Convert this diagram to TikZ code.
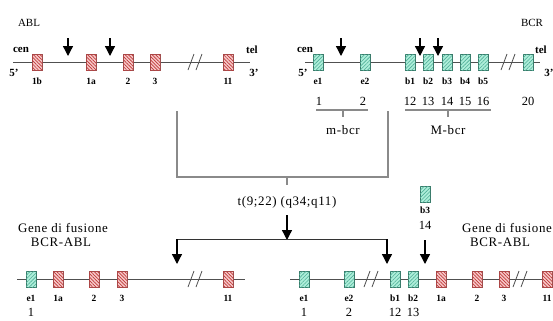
\documentclass[tikz,border=0pt]{standalone}
\usepackage{fontspec}
\setmainfont{Liberation Serif}
\usetikzlibrary{arrows.meta,patterns.meta}
\definecolor{ablfill}{HTML}{F6CACA}
\definecolor{ablhatch}{HTML}{C03838}
\definecolor{abldraw}{HTML}{A05050}
\definecolor{bcrfill}{HTML}{AEEEDA}
\definecolor{bcrhatch}{HTML}{50B098}
\definecolor{bcrdraw}{HTML}{3A7A6A}
\definecolor{chrom}{HTML}{505050}
\definecolor{brkt}{HTML}{8A8A8A}
\tikzset{
  exon/.style={minimum width=10bp, minimum height=16bp, inner sep=0pt, line width=0.7bp},
  ablex/.style={exon, draw=abldraw, fill=ablfill, postaction={pattern={Lines[angle=-45,distance=2.4bp,line width=0.7bp]}, pattern color=ablhatch}},
  bcrex/.style={exon, draw=bcrdraw, fill=bcrfill, postaction={pattern={Lines[angle=45,distance=2.6bp,line width=0.6bp]}, pattern color=bcrhatch}},
  chromline/.style={draw=chrom, line width=0.9bp},
  slashline/.style={draw=chrom, line width=0.8bp},
  exlbl/.style={font=\fontsize{9.5}{9.5}\selectfont\bfseries, inner sep=0pt},
  endlbl/.style={font=\fontsize{11}{11}\selectfont\bfseries, inner sep=0pt},
  genelbl/.style={font=\fontsize{11}{11}\selectfont, inner sep=0pt},
  numlbl/.style={font=\fontsize{12.5}{12.5}\selectfont, inner sep=0pt},
  reglbl/.style={font=\fontsize{13}{13}\selectfont\addfontfeature{LetterSpace=5}, inner sep=0pt},
  arr/.style={-{Triangle[width=10bp,length=10bp]}, line width=1.3bp, draw=black},
  brackline/.style={draw=brkt, line width=1.1bp},
  joinline/.style={draw=black!80, line width=0.9bp},
  brk/.pic={\draw[slashline] (-7,8) -- (-1,-8) (1,8) -- (7,-8);}
}
\begin{document}
\begin{tikzpicture}[x=1bp,y=-1bp]
\useasboundingbox (0,0) rectangle (553,320);
\clip (0,0) rectangle (553,320);

% ---------------- ABL (top left) ----------------
\node[genelbl] (ablname) at (29,23) {ABL};
\coordinate (ablL) at (13,62);
\coordinate (ablR) at (250,62);
\draw[chromline] (ablL) -- (ablR);
\pic at (195,62) {brk};
\node[ablex] (a1b) at (37,62) {};
\node[ablex] (a1a) at (91,62) {};
\node[ablex] (a2) at (128,62) {};
\node[ablex] (a3) at (155,62) {};
\node[ablex] (a11) at (228,62) {};
\node[exlbl] (la1b) at (37,81) {1b};
\node[exlbl] (la1a) at (91,81) {1a};
\node[exlbl] (la2) at (128,81) {2};
\node[exlbl] (la3) at (155,81) {3};
\node[exlbl] (la11) at (228,81) {11};
\node[endlbl] (acen) at (21,50) {cen};
\node[endlbl] (a5) at (14,73) {5'};
\node[endlbl] (atel) at (252,50) {tel};
\node[endlbl] (a3p) at (254,73) {3'};
\coordinate (aa1s) at (68,38);
\coordinate (aa1e) at (68,56);
\coordinate (aa2s) at (110,38);
\coordinate (aa2e) at (110,56);
\draw[arr] (aa1s) -- (aa1e);
\draw[arr] (aa2s) -- (aa2e);

% ---------------- BCR (top right) ----------------
\node[genelbl] (bcrname) at (532,23) {BCR};
\coordinate (bcrL) at (305,62);
\coordinate (bcrR) at (540,62);
\draw[chromline] (bcrL) -- (bcrR);
\pic at (508,62) {brk};
\node[bcrex] (be1) at (318,62) {};
\node[bcrex] (be2) at (365,62) {};
\node[bcrex] (bb1) at (410,62) {};
\node[bcrex] (bb2) at (428,62) {};
\node[bcrex] (bb3) at (447,62) {};
\node[bcrex] (bb4) at (465,62) {};
\node[bcrex] (bb5) at (483,62) {};
\node[bcrex] (be20) at (528,62) {};
\node[exlbl] (lbe1) at (318,81) {e1};
\node[exlbl] (lbe2) at (365,81) {e2};
\node[exlbl] (lbb1) at (410,81) {b1};
\node[exlbl] (lbb2) at (428,81) {b2};
\node[exlbl] (lbb3) at (447,81) {b3};
\node[exlbl] (lbb4) at (465,81) {b4};
\node[exlbl] (lbb5) at (483,81) {b5};
\node[endlbl] (bcen) at (305,50) {cen};
\node[endlbl] (b5) at (303,73) {5'};
\node[endlbl] (btel) at (541,50) {tel};
\node[endlbl] (b3p) at (549,73) {3'};
\coordinate (ba1s) at (341,38);
\coordinate (ba1e) at (341,56);
\coordinate (ba2s) at (420,38);
\coordinate (ba2e) at (420,56);
\coordinate (ba3s) at (438,38);
\coordinate (ba3e) at (438,56);
\draw[arr] (ba1s) -- (ba1e);
\draw[arr] (ba2s) -- (ba2e);
\draw[arr] (ba3s) -- (ba3e);

% exon numbers
\node[numlbl] (n1) at (319,101) {1};
\node[numlbl] (n2) at (363,101) {2};
\node[numlbl] (n12) at (410,101) {12};
\node[numlbl] (n13) at (428,101) {13};
\node[numlbl] (n14) at (447,101) {14};
\node[numlbl] (n15) at (465,101) {15};
\node[numlbl] (n16) at (483,101) {16};
\node[numlbl] (n20) at (528,101) {20};

% m-bcr / M-bcr
\coordinate (mL) at (316,110);
\coordinate (mR) at (368,110);
\coordinate (mT) at (343,110);
\coordinate (mTb) at (343,117);
\draw[brackline] (mL) -- (mR);
\draw[brackline] (mT) -- (mTb);
\node[reglbl] (mbcr) at (343,130) {m-bcr};
\coordinate (ML) at (405,110);
\coordinate (MR) at (491,110);
\coordinate (MT) at (448,110);
\coordinate (MTb) at (448,117);
\draw[brackline] (ML) -- (MR);
\draw[brackline] (MT) -- (MTb);
\node[reglbl] (Mbcr) at (448,130) {M-bcr};

% translocation bracket
\coordinate (bL) at (177,111);
\coordinate (bLb) at (177,177);
\coordinate (bRb) at (388,177);
\coordinate (bR) at (388,111);
\draw[brackline] (bL) -- (bLb) -- (bRb) -- (bR);
\coordinate (tk1) at (287,177);
\coordinate (tk2) at (287,185);
\draw[brackline] (tk1) -- (tk2);
\node[reglbl] (trans) at (287,202) {t(9;22) (q34;q11)};
\coordinate (ts) at (287,215);
\coordinate (jM) at (287,240);
\draw[arr] (ts) -- (jM);
\coordinate (jL) at (177,239);
\coordinate (jR) at (387,239);
\coordinate (tL) at (177,264);
\coordinate (tR) at (387,264);
\draw[joinline] (jL) -- (jR);
\draw[arr] (jL) -- (tL);
\draw[arr] (jR) -- (tR);

% ---------------- fusion (bottom left) ----------------
\node[reglbl] (gfl) at (63,228) {Gene di fusione};
\node[reglbl] (gfl2) at (61,242) {BCR-ABL};
\coordinate (flL) at (17,279);
\coordinate (flR) at (245,279);
\draw[chromline] (flL) -- (flR);
\pic at (195,279) {brk};
\node[bcrex] (fe1) at (31,279) {};
\node[ablex] (f1a) at (58,279) {};
\node[ablex] (f2) at (94,279) {};
\node[ablex] (f3) at (122,279) {};
\node[ablex] (f11) at (228,279) {};
\node[exlbl] (lfe1) at (31,298) {e1};
\node[exlbl] (lf1a) at (58,298) {1a};
\node[exlbl] (lf2) at (94,298) {2};
\node[exlbl] (lf3) at (122,298) {3};
\node[exlbl] (lf11) at (228,298) {11};
\node[numlbl] (fn1) at (31,312.5) {1};

% ---------------- fusion (bottom right) ----------------
\node[reglbl, anchor=west] (gfr) at (462,228) {Gene di fusione};
\node[reglbl] (gfr2) at (500,242) {BCR-ABL};
\coordinate (frL) at (290,279);
\coordinate (frR) at (553,279);
\draw[chromline] (frL) -- (frR);
\pic at (371,279) {brk};
\pic at (520,279) {brk};
\node[bcrex] (ge1) at (304,279) {};
\node[bcrex] (ge2) at (349,279) {};
\node[bcrex] (gb1) at (395,279) {};
\node[bcrex] (gb2) at (413,279) {};
\node[ablex] (g1a) at (441,279) {};
\node[ablex] (g2) at (477,279) {};
\node[ablex] (g3) at (504,279) {};
\node[ablex] (g11) at (547,279) {};
\node[exlbl] (lge1) at (304,298) {e1};
\node[exlbl] (lge2) at (349,298) {e2};
\node[exlbl] (lgb1) at (395,298) {b1};
\node[exlbl] (lgb2) at (413,298) {b2};
\node[exlbl] (lg1a) at (441,298) {1a};
\node[exlbl] (lg2) at (477,298) {2};
\node[exlbl] (lg3) at (504,298) {3};
\node[exlbl] (lg11) at (547,298) {11};
\node[numlbl] (gn1) at (304,312.5) {1};
\node[numlbl] (gn2) at (349,312.5) {2};
\node[numlbl] (gn12) at (395,312.5) {12};
\node[numlbl] (gn13) at (413,312.5) {13};

% inserted b3 exon
\node[bcrex] (ib3) at (425,194) {};
\node[exlbl] (lib3) at (425,210) {b3};
\node[numlbl] (in14) at (425,225) {14};
\coordinate (ias) at (425,240);
\coordinate (iae) at (425,264);
\draw[arr] (ias) -- (iae);
\end{tikzpicture}
\end{document}
